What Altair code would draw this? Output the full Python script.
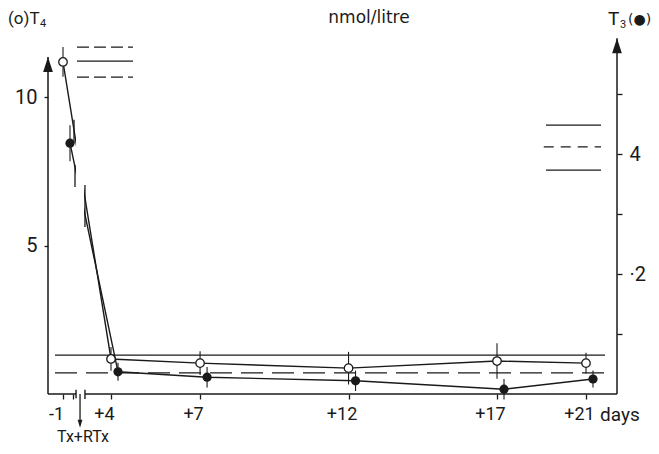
import altair as alt
import pandas as pd

# ---------------- data ----------------
days = [-1, 4, 7, 12, 17, 21]
t4 = [11.18, 1.18, 1.04, 0.87, 1.11, 1.04]          # nmol/l, open circles (left axis)
t4_err = [0.50, 0.40, 0.40, 0.55, 0.60, 0.35]
t3 = [4.18, 0.37, 0.28, 0.22, 0.08, 0.25]           # nmol/l, filled circles (right axis)
t3_err = [0.30, 0.15, 0.17, 0.17, 0.17, 0.14]

tick_days = [-1, 0, 4, 7, 12, 17, 21]
tick_labels = ["-1", "", "+4", "+7", "+12", "+17", "+21"]

# reference lines (T4 scale)
t4_ref_long_y = [1.31]          # solid, full width
t4_ref_long_dash_y = [0.71]     # dashed, full width
t4_norm_solid_y = [11.21]       # top-left, solid
t4_norm_dash_y = [11.68, 10.67] # top-left, dashed
# reference lines (T3 scale)
t3_norm_solid_y = [4.48, 3.73]
t3_norm_dash_y = [4.12]

# broken x axis: piecewise scale
x_domain = [-2.5, 0, 4, 17, 21, 22.4]
x_range = [0, 25, 63, 449, 538, 569]
X_MIN, X_MAX = x_domain[0], x_domain[-1]
T4_MAX = 12.054
T3_MAX = 5.967

INK = "#1a1a1a"
FONT = "Roboto"

df = pd.DataFrame({
    "day": days,
    "t4": t4,
    "t4_lo": [v - e for v, e in zip(t4, t4_err)],
    "t4_hi": [v + e for v, e in zip(t4, t4_err)],
    "t3": t3,
    "t3_lo": [v - e for v, e in zip(t3, t3_err)],
    "t3_hi": [v + e for v, e in zip(t3, t3_err)],
})

label_expr = ""
for d, lab in zip(tick_days, tick_labels):
    label_expr += f"datum.value == {d} ? '{lab}' : "
label_expr += "''"

xscale = alt.Scale(domain=x_domain, range=x_range, nice=False, zero=False)
xaxis = alt.Axis(values=tick_days, labelExpr=label_expr, orient="bottom", domain=False,
                 grid=False, tickSize=5, tickColor=INK, tickWidth=1.3, labelFont=FONT,
                 labelFontSize=18, labelColor=INK, labelPadding=6, labelOffset=-7,
                 labelFlush=False, labelOverlap=False, title=None)
ys4 = alt.Scale(domain=[0, T4_MAX], nice=False, zero=False)
ys3 = alt.Scale(domain=[0, T3_MAX], nice=False, zero=False)

left_axis = alt.Axis(orient="left", values=[5, 10], domain=False, grid=False, tickSize=4,
                     tickColor=INK, tickWidth=1.3, labelFont=FONT, labelFontSize=20,
                     labelColor=INK, labelPadding=7, title=None)
right_axis = alt.Axis(orient="right", values=[1, 2, 3, 4, 5], domain=False, grid=False,
                      tickSize=5, tickColor=INK, tickWidth=1.3, labelFont=FONT,
                      labelFontSize=20, labelColor=INK, labelPadding=7, title=None,
                      labelExpr="datum.value == 4 ? '4' : datum.value == 2 ? '\u00b72' : ''")


def X(f):
    return alt.X(f"{f}:Q", scale=xscale, axis=xaxis)


def Y4(f, axis=None):
    return alt.Y(f"{f}:Q", scale=ys4, axis=axis)


def Y3(f, axis=None):
    return alt.Y(f"{f}:Q", scale=ys3, axis=axis)


def hlines(x0, x1, ys):
    return pd.DataFrame({"x0": [x0] * len(ys), "x1": [x1] * len(ys), "y": ys})


layers = []

# reference lines
layers.append(alt.Chart(hlines(-1.8, 21.86, t4_ref_long_y)).mark_rule(color=INK, strokeWidth=1.1)
              .encode(x=X("x0"), x2="x1", y=Y4("y")))
layers.append(alt.Chart(hlines(-1.8, 21.86, t4_ref_long_dash_y))
              .mark_rule(color=INK, strokeWidth=1.1, strokeDash=[22, 9])
              .encode(x=X("x0"), x2="x1", y=Y4("y")))
layers.append(alt.Chart(hlines(0.42, 4.74, t4_norm_solid_y)).mark_rule(color=INK, strokeWidth=1.2)
              .encode(x=X("x0"), x2="x1", y=Y4("y")))
layers.append(alt.Chart(hlines(0.42, 4.74, t4_norm_dash_y))
              .mark_rule(color=INK, strokeWidth=1.2, strokeDash=[12, 5])
              .encode(x=X("x0"), x2="x1", y=Y4("y")))
layers.append(alt.Chart(hlines(19.2, 21.68, t3_norm_solid_y)).mark_rule(color=INK, strokeWidth=1.2)
              .encode(x=X("x0"), x2="x1", y=Y3("y")))
layers.append(alt.Chart(hlines(19.1, 21.68, t3_norm_dash_y))
              .mark_rule(color=INK, strokeWidth=1.2, strokeDash=[10, 7])
              .encode(x=X("x0"), x2="x1", y=Y3("y")))

# axis lines (left, bottom with break, right)
layers.append(alt.Chart(pd.DataFrame({"x": [X_MIN], "y0": [0], "y1": [11.35]}))
              .mark_rule(color=INK, strokeWidth=1.5)
              .encode(x=X("x"), y=Y4("y0", left_axis), y2="y1"))
layers.append(alt.Chart(pd.DataFrame({"x0": [X_MIN, 1.26], "x1": [0.32, X_MAX], "y": [0, 0]}))
              .mark_rule(color=INK, strokeWidth=1.5)
              .encode(x=X("x0"), x2="x1", y=Y4("y")))
layers.append(alt.Chart(pd.DataFrame({"x": [X_MAX], "y0": [0], "y1": [5.93]}))
              .mark_rule(color=INK, strokeWidth=1.5)
              .encode(x=X("x"), y=Y3("y0", right_axis), y2="y1"))
UP = "M0,-1L0.65,1L-0.65,1Z"
DOWN = "M0,1L0.6,-1L-0.6,-1Z"
layers.append(alt.Chart(pd.DataFrame({"x": [X_MIN], "y": [11.35]}))
              .mark_point(shape=UP, size=225, filled=True, color=INK, opacity=1, yOffset=7.5)
              .encode(x=X("x"), y=Y4("y")))
layers.append(alt.Chart(pd.DataFrame({"x": [X_MAX], "y": [5.93]}))
              .mark_point(shape=UP, size=225, filled=True, color=INK, opacity=1, yOffset=7.5)
              .encode(x=X("x"), y=Y3("y")))
# axis break marks and treatment arrow
layers.append(alt.Chart(pd.DataFrame({"x": [0.32, 1.26], "y0": [-0.14, -0.17], "y1": [0.14, 0.14]}))
              .mark_rule(color=INK, strokeWidth=1.4)
              .encode(x=X("x"), y=Y4("y0"), y2="y1"))
layers.append(alt.Chart(pd.DataFrame({"x": [0.74], "y0": [0], "y1": [-1.02]}))
              .mark_rule(color=INK, strokeWidth=1.3)
              .encode(x=X("x"), y=Y4("y0"), y2="y1"))
layers.append(alt.Chart(pd.DataFrame({"x": [0.74], "y": [-1.14]}))
              .mark_point(shape=DOWN, size=64, filled=True, color=INK, opacity=1, yOffset=-4)
              .encode(x=X("x"), y=Y4("y")))

# data lines
layers.append(alt.Chart(df).mark_line(color=INK, strokeWidth=1.4)
              .encode(x=X("day"), y=Y4("t4")))
layers.append(alt.Chart(df).mark_line(color=INK, strokeWidth=1.4, xOffset=7)
              .encode(x=X("day"), y=Y3("t3")))
# gap in the lines at the axis break
layers.append(alt.Chart(pd.DataFrame({"x0": [0.32], "x1": [1.16], "y0": [5.2], "y1": [9.9]}))
              .mark_rect(color="white")
              .encode(x=X("x0"), x2="x1", y=Y4("y0"), y2="y1"))
layers.append(alt.Chart(pd.DataFrame({"x": [0.105, 0.21, 1.26], "y0": [8.45, 6.97, 5.62],
                                      "y1": [9.23, 7.71, 7.04]}))
              .mark_rule(color=INK, strokeWidth=1.3)
              .encode(x=X("x"), y=Y4("y0"), y2="y1"))

# error bars
layers.append(alt.Chart(df).mark_rule(color=INK, strokeWidth=1.1)
              .encode(x=X("day"), y=Y4("t4_lo"), y2="t4_hi"))
layers.append(alt.Chart(df).mark_rule(color=INK, strokeWidth=1.1, xOffset=7)
              .encode(x=X("day"), y=Y3("t3_lo"), y2="t3_hi"))
# points
layers.append(alt.Chart(df).mark_point(shape="circle", size=72, filled=True, fill="white",
                                       stroke=INK, strokeWidth=1.3, opacity=1)
              .encode(x=X("day"), y=Y4("t4")))
layers.append(alt.Chart(df).mark_point(shape="circle", size=85, filled=True, color=INK,
                                       opacity=1, xOffset=7)
              .encode(x=X("day"), y=Y3("t3")))


# texts
def text(s, x, y, size, align="left", baseline="alphabetic", font=FONT):
    return (alt.Chart(pd.DataFrame({"t": [s]}))
            .mark_text(align=align, baseline=baseline, fontSize=size, font=font, color=INK)
            .encode(x=alt.value(x), y=alt.value(y), text="t:N"))


layers.append(text("(o)T", -40, -12, 17))
layers.append(text("4", -8, -9, 11))
layers.append(text("nmol/litre", 321, -13, 17, align="center", font="DejaVu Sans"))
layers.append(text("T", 560, -11, 19))
layers.append(text("3", 572, -8, 11))
layers.append(text("(\u25cf)", 580, -12, 14, font="DejaVu Sans"))
layers.append(text("days", 552, 385, 19))
layers.append(text("Tx+RTx", 35, 406, 16, align="center"))

chart = (alt.layer(*layers)
         .resolve_scale(y="independent")
         .properties(width=569, height=358,
                     autosize=alt.AutoSizeParams(type="none"),
                     padding={"left": 40, "top": 28, "right": 34, "bottom": 52},
                     background="white")
         .configure_view(stroke=None))

chart.save("out.html", embed_options={"renderer": "svg", "actions": False})
